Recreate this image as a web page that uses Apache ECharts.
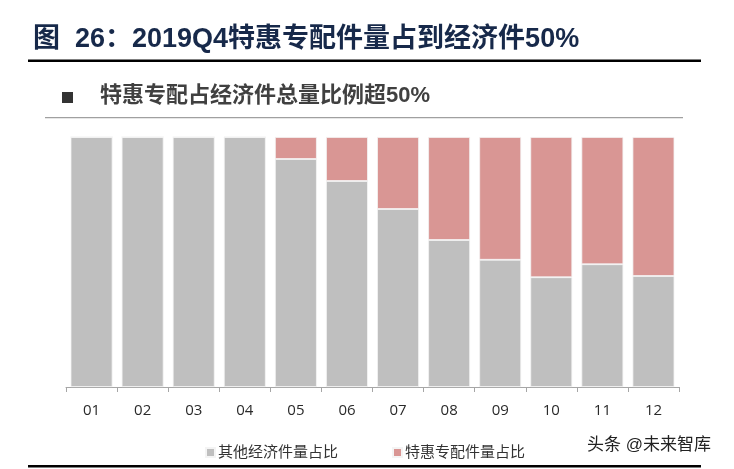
<!DOCTYPE html>
<html><head><meta charset="utf-8">
<script src="https://cdn.jsdelivr.net/npm/echarts@6/dist/echarts.min.js"></script>
<style>html,body{margin:0;padding:0;background:#fff}#c{width:734px;height:469px}</style>
</head><body><div id="c"></div>
<script>
const categories = ['01','02','03','04','05','06','07','08','09','10','11','12'];
const otherShare = [100,100,100,100,91.2,82.4,71.2,58.8,50.9,43.9,49.1,44.4];
const specialShare = [0,0,0,0,8.8,17.6,28.8,41.2,49.1,56.1,50.9,55.6];
const seriesNames = ['其他经济件量占比','特惠专配件量占比'];
const titleText = '图  26：2019Q4特惠专配件量占到经济件50%';
const subtitleText = '特惠专配占经济件总量比例超50%';
const watermark = '头条 @未来智库';

const chart = echarts.init(document.getElementById('c'), null, {renderer:'canvas'});
const cjk = '"Liberation Sans","Noto Sans CJK SC",sans-serif';
chart.setOption({
  animation:false,
  backgroundColor:'#fff',
  grid:{left:66,right:55,top:137,bottom:82},
  legend:{
    data:seriesNames, left:200, top:440, icon:'rect', itemWidth:9, itemHeight:9, itemGap:54,
    textStyle:{fontSize:15,color:'#333',fontFamily:cjk,padding:[0,0,0,-2]}
  },
  xAxis:{
    type:'category', data:categories,
    axisLine:{lineStyle:{color:'#a6a6a6',width:1}},
    axisTick:{show:true,length:5,lineStyle:{color:'#a6a6a6'}},
    axisLabel:{color:'#2a2a2a',fontSize:15,margin:16,fontFamily:'"Open Sans",sans-serif'}
  },
  yAxis:{type:'value',min:0,max:100,show:false,splitLine:{show:false}},
  series:[
    {name:seriesNames[0],type:'bar',stack:'s',data:otherShare,barCategoryGap:'18%',
     itemStyle:{color:'#bfbfbf',borderColor:'#f4f4f4',borderWidth:0.8}},
    {name:seriesNames[1],type:'bar',stack:'s',data:specialShare,barCategoryGap:'18%',
     itemStyle:{color:'#d99694',borderColor:'#f4f4f4',borderWidth:0.8}}
  ],
  graphic:[
    {type:'text',left:33,top:26,style:{text:titleText,fontSize:27,fontWeight:'bold',fill:'#17294a',fontFamily:cjk}},
    {type:'rect',shape:{x:28,y:59.5,width:673,height:2.5},style:{fill:'#000'}},
    {type:'rect',shape:{x:62,y:92,width:11,height:11},style:{fill:'#333'}},
    {type:'text',left:100,top:85,style:{text:subtitleText,fontSize:22,fontWeight:'bold',fill:'#404040',fontFamily:cjk}},
    {type:'rect',shape:{x:45,y:117,width:638,height:1.2},style:{fill:'#a0a0a0'}},
    {type:'text',left:587,top:437,style:{text:watermark,fontSize:17,fill:'#222',fontFamily:cjk}},
    {type:'rect',shape:{x:28,y:465,width:673,height:2.5},style:{fill:'#000'}}
  ]
});
</script></body></html>
